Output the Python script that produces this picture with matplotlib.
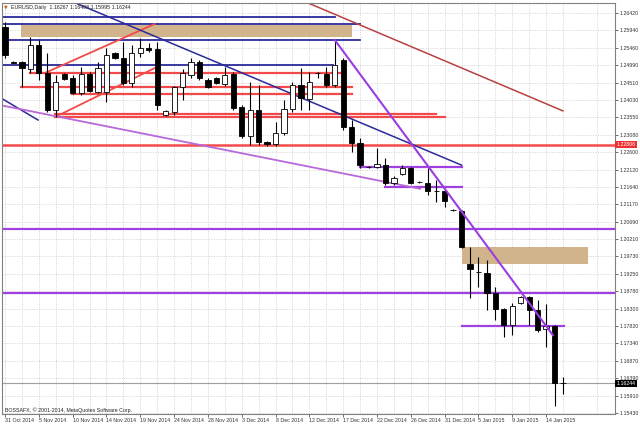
import numpy as np
import matplotlib.pyplot as plt

# daily bars, index 0 = 31 Oct 2014
opens = [1.2603, 1.2508, 1.2507, 1.2488, 1.2554, 1.2477, 1.2376, 1.2474, 1.2463, 1.2422,
         1.2474, 1.2425, 1.2425, 1.2532, 1.2518, 1.2450, 1.2532, 1.2546, 1.2543, 1.2362,
         1.2370, 1.2439, 1.2472, 1.2507, 1.2458, 1.2463, 1.2447, 1.2474, 1.2384, 1.2304,
         1.2376, 1.2288, 1.2282, 1.2312, 1.2378, 1.2444, 1.2406, 1.2476, 1.2474, 1.2444,
         1.2513, 1.2329, 1.2285, 1.2220, 1.2219, 1.2224, 1.2175, 1.2200, 1.2216, 1.2178,
         1.2175, 1.2153, 1.2153, 1.2101, 1.2098, 1.1952, 1.1931, 1.1928, 1.1873, 1.1829,
         1.1785, 1.1845, 1.1862, 1.1826, 1.1774, 1.1782, 1.16267]
highs = [1.2617, 1.2510, 1.2510, 1.2576, 1.2568, 1.2532, 1.2472, 1.2477, 1.2472, 1.2494,
         1.2480, 1.2507, 1.2546, 1.2535, 1.2562, 1.2554, 1.2573, 1.2560, 1.2562, 1.2376,
         1.2441, 1.2488, 1.2518, 1.2512, 1.2463, 1.2466, 1.2494, 1.2480, 1.2389, 1.2452,
         1.2444, 1.2291, 1.2343, 1.2403, 1.2452, 1.2491, 1.2480, 1.2480, 1.2494, 1.2568,
         1.2518, 1.2348, 1.2299, 1.2222, 1.2271, 1.2244, 1.2194, 1.2224, 1.2219, 1.2180,
         1.2216, 1.2183, 1.2156, 1.2103, 1.2101, 1.1999, 1.1972, 1.1963, 1.1889, 1.1832,
         1.1845, 1.1865, 1.1865, 1.1854, 1.1843, 1.1785, 1.1642]
lows = [1.2518, 1.2504, 1.2439, 1.2477, 1.2458, 1.2370, 1.2356, 1.2458, 1.2420, 1.2417,
        1.2425, 1.2422, 1.2398, 1.2515, 1.2444, 1.2439, 1.2521, 1.2535, 1.2376, 1.2359,
        1.2362, 1.2403, 1.2463, 1.2458, 1.2436, 1.2447, 1.2442, 1.2376, 1.2299, 1.2280,
        1.2280, 1.2277, 1.2277, 1.2307, 1.2370, 1.2376, 1.2376, 1.2463, 1.2439, 1.2439,
        1.2321, 1.2260, 1.2216, 1.2216, 1.2216, 1.2170, 1.2170, 1.2197, 1.2172, 1.2175,
        1.2142, 1.2123, 1.2109, 1.2098, 1.1996, 1.1859, 1.1889, 1.1827, 1.1798, 1.1752,
        1.1757, 1.1843, 1.1785, 1.1765, 1.1724, 1.1562, 1.1595]
closes = [1.2527, 1.2506, 1.2491, 1.2554, 1.2477, 1.2376, 1.2452, 1.2461, 1.2422, 1.2474,
          1.2428, 1.2491, 1.2527, 1.2518, 1.2450, 1.2532, 1.2546, 1.2540, 1.2389, 1.2373,
          1.2439, 1.2477, 1.2507, 1.2463, 1.2439, 1.2450, 1.2472, 1.2381, 1.2304, 1.2376,
          1.2288, 1.2282, 1.2312, 1.2378, 1.2444, 1.2408, 1.2452, 1.2478, 1.2444, 1.2499,
          1.2329, 1.2285, 1.2224, 1.2218, 1.2227, 1.2175, 1.2189, 1.2216, 1.2175, 1.2177,
          1.2153, 1.2152, 1.2125, 1.2100, 1.1999, 1.1939, 1.1930, 1.1873, 1.1829, 1.1785,
          1.1837, 1.1862, 1.1826, 1.1771, 1.1782, 1.1625, 1.16244]

date_labels = ['31 Oct 2014', '5 Nov 2014', '10 Nov 2014', '14 Nov 2014', '19 Nov 2014',
               '24 Nov 2014', '28 Nov 2014', '3 Dec 2014', '8 Dec 2014', '12 Dec 2014',
               '17 Dec 2014', '22 Dec 2014', '26 Dec 2014', '31 Dec 2014', '5 Jan 2015',
               '9 Jan 2015', '14 Jan 2015']
price_ticks = [1.15430, 1.15910, 1.16390, 1.16870, 1.17340, 1.17820, 1.18300, 1.18780,
               1.19250, 1.19730, 1.20210, 1.20690, 1.21170, 1.21640, 1.22120, 1.22600,
               1.23080, 1.23550, 1.24030, 1.24510, 1.24990, 1.25460, 1.25940, 1.26420]

# drawn objects (bar index, price)
navy_levels = [1.2631, 1.2612, 1.2568, 1.2499]
navy_level_end = [39.0, 42.0, 42.0, 38.8]
red_levels = [1.2477, 1.2439, 1.2420, 1.2365, 1.2356]
red_level_start = [3.0, 1.9, 7.9, 5.9, 5.9]
red_level_end = [40.0, 41.0, 41.0, 51.0, 52.0]
red_full = 1.22806
purple_full = [1.2049, 1.1873]
purple_levels = [1.2219, 1.2164, 1.1782]
purple_level_start = [42.0, 44.9, 54.0]
purple_level_end = [54.0, 54.0, 66.1]
zones = [(1.9, 41.0, 1.2576, 1.2609), (54.0, 69.0, 1.1952, 1.1999)]
red_trends = [((4.7, 1.2477), (17.7, 1.2612)), ((5.9, 1.2356), (18.0, 1.2494))]
navy_trends = [((-0.6, 1.2410), (3.9, 1.2348)), ((8.3, 1.2670), (54.0, 1.2224))]
brown_trend = ((35.8, 1.2670), (66.0, 1.2373))
purple_trend = ((39.0, 1.2568), (64.8, 1.1757))
violet_trend = ((-0.6, 1.2389), (49.1, 1.2159))
bid = 1.16244

fig = plt.figure(figsize=(6.4, 4.28), dpi=100)
ax = fig.add_axes([2 / 640, 14 / 428, 613 / 640, 411 / 428])
x0, x1 = -0.36, 72.15
ax.set_xlim(x0, x1)
ax.set_ylim(1.15402, 1.26695)

# grid: labels every 4 bars, dotted lines every 2 bars
ax.set_xticks(range(0, 65, 4))
ax.set_xticks(range(2, 72, 4), minor=True)
ax.set_xticklabels(date_labels, ha='left', fontsize=3.8, family='Liberation Sans')
ax.set_yticks(price_ticks)
ax.set_yticklabels(['%.5f' % p for p in price_ticks], fontsize=3.8, family='Liberation Sans')
ax.yaxis.tick_right()
ax.tick_params(length=2, width=0.5, pad=1, colors='#333333')
ax.tick_params(which='minor', length=0)
ax.grid(True, which='both', linestyle=(0, (1.5, 2)), color='#c4c4c4', linewidth=0.5)
ax.set_axisbelow(True)
for s in ax.spines.values():
    s.set_color('#808080')
    s.set_linewidth(0.8)

# zones
for a, b, lo, hi in zones:
    ax.fill_between([a, b], lo, hi, color='#d2b48c', lw=0, zorder=1)

# horizontal objects
for p, e in zip(navy_levels, navy_level_end):
    ax.plot([x0, e], [p, p], color='#2a2a9a', lw=1.3, zorder=2)
for p, a, b in zip(red_levels, red_level_start, red_level_end):
    ax.plot([a, b], [p, p], color='#f24a4a', lw=1.6, zorder=2)
ax.axhline(red_full, color='#f24a4a', lw=1.8, zorder=2)
for p in purple_full:
    ax.axhline(p, color='#a040e0', lw=1.6, zorder=2)
for p, a, b in zip(purple_levels, purple_level_start, purple_level_end):
    ax.plot([a, b], [p, p], color='#a040e0', lw=1.6, zorder=2)
ax.axhline(bid, color='#a0a0a0', lw=0.8, zorder=2)

# trend lines
for (xa, ya), (xb, yb) in red_trends:
    ax.plot([xa, xb], [ya, yb], color='#f24a4a', lw=1.3, zorder=2)
for (xa, ya), (xb, yb) in navy_trends:
    ax.plot([xa, xb], [ya, yb], color='#2a2a9a', lw=1.1, zorder=2)
ax.plot(*zip(*brown_trend), color='#b84040', lw=1.1, zorder=2)
ax.plot(*zip(*violet_trend), color='#b868d8', lw=1.3, zorder=2)
ax.plot(*zip(*purple_trend), color='#9a3ee0', lw=1.5, zorder=4)

# candles
idx = np.arange(len(opens))
o = np.array(opens)
c = np.array(closes)
ax.vlines(idx, lows, highs, color='black', lw=0.8, zorder=3)
body = np.maximum(np.abs(c - o), 0.00006)
face = ['white' if cc > oo else 'black' for oo, cc in zip(o, c)]
ax.bar(idx, body, bottom=np.minimum(o, c), width=0.62, color=face,
       edgecolor='black', linewidth=0.6, zorder=3)

# price labels on the right axis
ax.text(1.002, red_full, '%.5f' % red_full, transform=ax.get_yaxis_transform(),
        fontsize=3.8, family='Liberation Sans', color='white', va='center', ha='left',
        bbox=dict(boxstyle='square,pad=0.25', fc='#f03030', ec='none'), clip_on=False)
ax.text(1.002, bid, '%.5f' % bid, transform=ax.get_yaxis_transform(),
        fontsize=3.8, family='Liberation Sans', color='white', va='center', ha='left',
        bbox=dict(boxstyle='square,pad=0.25', fc='black', ec='none'), clip_on=False)

fig.text(4 / 640, 1 - 7 / 428, '\u25bc', fontsize=3.5, color='#c07010', va='center')
fig.text(11 / 640, 1 - 7 / 428, 'EURUSD,Daily  1.16267 1.16408 1.15995 1.16244',
         fontsize=3.8, family='Liberation Sans', color='#222222', va='center')
fig.text(5 / 640, 18 / 428, 'BOSSAFX, \u00a9 2001-2014, MetaQuotes Software Corp.',
         fontsize=3.8, family='Liberation Sans', color='#222222', va='center')

fig.savefig('out.png', dpi=100)
